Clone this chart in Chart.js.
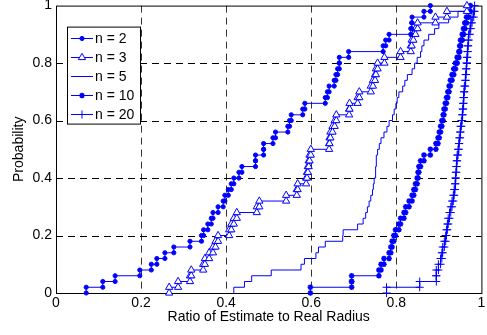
<!DOCTYPE html>
<html>
<head>
<meta charset="utf-8">
<title>Ratio of Estimate to Real Radius</title>
<script src="https://cdn.jsdelivr.net/npm/chart.js@4.4.1/dist/chart.umd.min.js"></script>
<style>
  html, body { margin: 0; padding: 0; background: #fff; }
  #wrap { width: 487px; height: 335px; }
</style>
</head>
<body>
<div id="wrap"><canvas id="cdfChart" width="487" height="335"></canvas></div>
<script>
// sorted ratios (one per trial) for each n
const seriesLabels = ['n = 2', 'n = 3', 'n = 5', 'n = 10', 'n = 20'];

const n2Ratios = [0.071, 0.110, 0.139, 0.197, 0.224, 0.237, 0.256, 0.277, 0.315, 0.342,
                  0.347, 0.357, 0.365, 0.369, 0.381, 0.393, 0.397, 0.405, 0.412, 0.418,
                  0.430, 0.437, 0.469, 0.469, 0.488, 0.488, 0.510, 0.516, 0.545, 0.549,
                  0.553, 0.580, 0.585, 0.633, 0.638, 0.642, 0.654, 0.658, 0.662, 0.666,
                  0.666, 0.688, 0.769, 0.775, 0.783, 0.834, 0.836, 0.837, 0.865, 0.880];

const n3Ratios = [0.266, 0.287, 0.315, 0.318, 0.346, 0.350, 0.360, 0.369, 0.375, 0.381,
                  0.407, 0.412, 0.418, 0.425, 0.472, 0.478, 0.541, 0.566, 0.568, 0.588,
                  0.590, 0.592, 0.594, 0.596, 0.599, 0.642, 0.643, 0.645, 0.650, 0.655,
                  0.659, 0.689, 0.690, 0.709, 0.713, 0.740, 0.745, 0.750, 0.752, 0.756,
                  0.772, 0.810, 0.834, 0.836, 0.840, 0.845, 0.850, 0.892, 0.919, 0.966];

const n5Ratios = [0.418, 0.443, 0.460, 0.506, 0.576, 0.584, 0.611, 0.617, 0.633, 0.674,
                  0.675, 0.709, 0.722, 0.728, 0.732, 0.736, 0.740, 0.744, 0.746, 0.748,
                  0.750, 0.752, 0.753, 0.753, 0.756, 0.760, 0.764, 0.771, 0.778, 0.783,
                  0.791, 0.795, 0.799, 0.802, 0.806, 0.815, 0.820, 0.826, 0.837, 0.843,
                  0.849, 0.857, 0.860, 0.865, 0.876, 0.890, 0.900, 0.923, 0.945, 0.975];

const n10Ratios = [0.598, 0.695, 0.695, 0.759, 0.764, 0.771, 0.783, 0.787, 0.790, 0.794,
                   0.798, 0.806, 0.810, 0.818, 0.822, 0.830, 0.837, 0.841, 0.845, 0.849,
                   0.851, 0.853, 0.857, 0.865, 0.880, 0.893, 0.898, 0.901, 0.904, 0.907,
                   0.910, 0.912, 0.915, 0.918, 0.921, 0.924, 0.927, 0.931, 0.935, 0.939,
                   0.943, 0.947, 0.949, 0.951, 0.955, 0.958, 0.961, 0.965, 0.970, 0.974];

const n20Ratios = [0.777, 0.855, 0.894, 0.894, 0.899, 0.904, 0.907, 0.909, 0.913, 0.916,
                   0.918, 0.920, 0.922, 0.925, 0.928, 0.931, 0.934, 0.936, 0.938, 0.939,
                   0.940, 0.941, 0.942, 0.943, 0.945, 0.947, 0.948, 0.950, 0.951, 0.953,
                   0.955, 0.956, 0.957, 0.958, 0.959, 0.960, 0.962, 0.963, 0.964, 0.965,
                   0.966, 0.967, 0.968, 0.969, 0.970, 0.973, 0.975, 0.978, 0.982, 0.984];

const xTicks = [0, 0.2, 0.4, 0.6, 0.8, 1];
const xTickLabels = ['0', '0.2', '0.4', '0.6', '0.8', '1'];
const yTicks = [0, 0.2, 0.4, 0.6, 0.8, 1];
const yTickLabels = ['0', '0.2', '0.4', '0.6', '0.8', '1'];

const BLUE = '#0000ff';
Chart.defaults.font.family = '"Liberation Sans", Arial, sans-serif';
Chart.defaults.font.size = 14;
Chart.defaults.color = '#000';

// empirical cdf as stairs: a vertex at the bottom and the top of every step
function stairPoints(ratios) {
    const pts = [];
    const total = ratios.length;
    ratios.forEach((r, i) => {
        pts.push({ x: r, y: i / total });
        pts.push({ x: r, y: (i + 1) / total });
    });
    return pts;
}

function makeSet(label, ratios, style, radius, width, fill) {
    return {
        label: label,
        data: stairPoints(ratios),
        borderColor: BLUE,
        borderWidth: 1,
        pointStyle: style || 'circle',
        pointRadius: radius,
        pointBorderWidth: width,
        pointBorderColor: BLUE,
        pointBackgroundColor: fill,
        tension: 0,
        fill: false,
        clip: false
    };
}

// dashed grid + axes box
const frame = {
    id: 'frame',
    beforeDatasetsDraw(chart) {
        const { ctx, chartArea: a, scales } = chart;
        ctx.save();
        ctx.lineWidth = 1;
        ctx.setLineDash([7, 5]);
        ctx.strokeStyle = '#333';
        xTicks.slice(1, -1).forEach(v => {
            const px = Math.round(scales.x.getPixelForValue(v)) + 0.5;
            ctx.beginPath();
            ctx.moveTo(px, a.top);
            ctx.lineTo(px, a.bottom);
            ctx.stroke();
        });
        ctx.strokeStyle = '#000';
        yTicks.slice(1, -1).forEach(v => {
            const py = Math.round(scales.y.getPixelForValue(v)) + 0.5;
            ctx.beginPath();
            ctx.moveTo(a.left, py);
            ctx.lineTo(a.right, py);
            ctx.stroke();
        });
        ctx.setLineDash([]);
        ctx.strokeRect(a.left + 0.5, a.top + 0.5, a.right - a.left, a.bottom - a.top);
        ctx.restore();
    }
};

// boxed legend in the upper left corner, like the original
const boxLegend = {
    id: 'boxLegend',
    afterDatasetsDraw(chart) {
        const { ctx, chartArea: a } = chart;
        const left = a.left + 11, top = a.top + 21;
        const w = 73, h = 97, rowH = 19;
        ctx.save();
        ctx.fillStyle = '#fff';
        ctx.fillRect(left, top, w, h);
        ctx.strokeStyle = '#000';
        ctx.lineWidth = 1;
        ctx.strokeRect(left + 0.5, top + 0.5, w, h);
        chart.data.datasets.forEach((ds, i) => {
            const y = Math.round(top + 11 + i * rowH) + 0.5;
            ctx.strokeStyle = BLUE;
            ctx.lineWidth = 1;
            ctx.beginPath();
            ctx.moveTo(left + 4, y);
            ctx.lineTo(left + 26, y);
            ctx.stroke();
            if (ds.pointRadius > 0) {
                ctx.fillStyle = ds.pointBackgroundColor;
                ctx.strokeStyle = ds.pointBorderColor;
                ctx.lineWidth = ds.pointBorderWidth;
                Chart.helpers.drawPoint(ctx, {
                    pointStyle: ds.pointStyle,
                    radius: ds.pointRadius,
                    borderWidth: ds.pointBorderWidth,
                    rotation: 0
                }, left + 15, y);
            }
            ctx.fillStyle = '#000';
            ctx.font = '14px "Liberation Sans", Arial, sans-serif';
            ctx.textBaseline = 'middle';
            ctx.textAlign = 'left';
            ctx.fillText(ds.label, left + 28, y + 1);
        });
        ctx.restore();
    }
};

new Chart(document.getElementById('cdfChart'), {
    type: 'line',
    data: {
        datasets: [
            makeSet(seriesLabels[0], n2Ratios, 'circle', 2.1, 1, BLUE),
            makeSet(seriesLabels[1], n3Ratios, 'triangle', 4.2, 1, '#fff'),
            makeSet(seriesLabels[2], n5Ratios, 'circle', 0, 0, BLUE),
            makeSet(seriesLabels[3], n10Ratios, 'star', 2.8, 1.6, BLUE),
            makeSet(seriesLabels[4], n20Ratios, 'cross', 4, 1, BLUE)
        ]
    },
    options: {
        responsive: false,
        animation: false,
        events: [],
        layout: { padding: { top: 5, right: 4, left: 0, bottom: 0 } },
        plugins: {
            legend: { display: false },
            tooltip: { enabled: false }
        },
        scales: {
            x: {
                type: 'linear',
                min: 0,
                max: 1,
                grid: { display: false, drawTicks: false, tickLength: 0 },
                border: { display: false },
                afterBuildTicks: s => { s.ticks = xTicks.map(v => ({ value: v })); },
                afterFit: s => { s.height = 42; s.paddingLeft = 0; s.paddingRight = 0; },
                ticks: {
                    padding: 2,
                    maxRotation: 0,
                    callback: (v, i) => xTickLabels[i]
                },
                title: {
                    display: true,
                    text: 'Ratio of Estimate to Real Radius',
                    padding: { top: 0, bottom: 9 }
                }
            },
            y: {
                min: 0,
                max: 1,
                grid: { display: false, drawTicks: false, tickLength: 0 },
                border: { display: false },
                afterBuildTicks: s => { s.ticks = yTicks.map(v => ({ value: v })); },
                afterFit: s => { s.width = 56; s.paddingTop = 0; s.paddingBottom = 0; },
                ticks: {
                    padding: 4,
                    callback: (v, i) => yTickLabels[i]
                },
                title: {
                    display: true,
                    text: 'Probability',
                    padding: { top: 11, bottom: 0 }
                }
            }
        }
    },
    plugins: [frame, boxLegend]
});
</script>
</body>
</html>
